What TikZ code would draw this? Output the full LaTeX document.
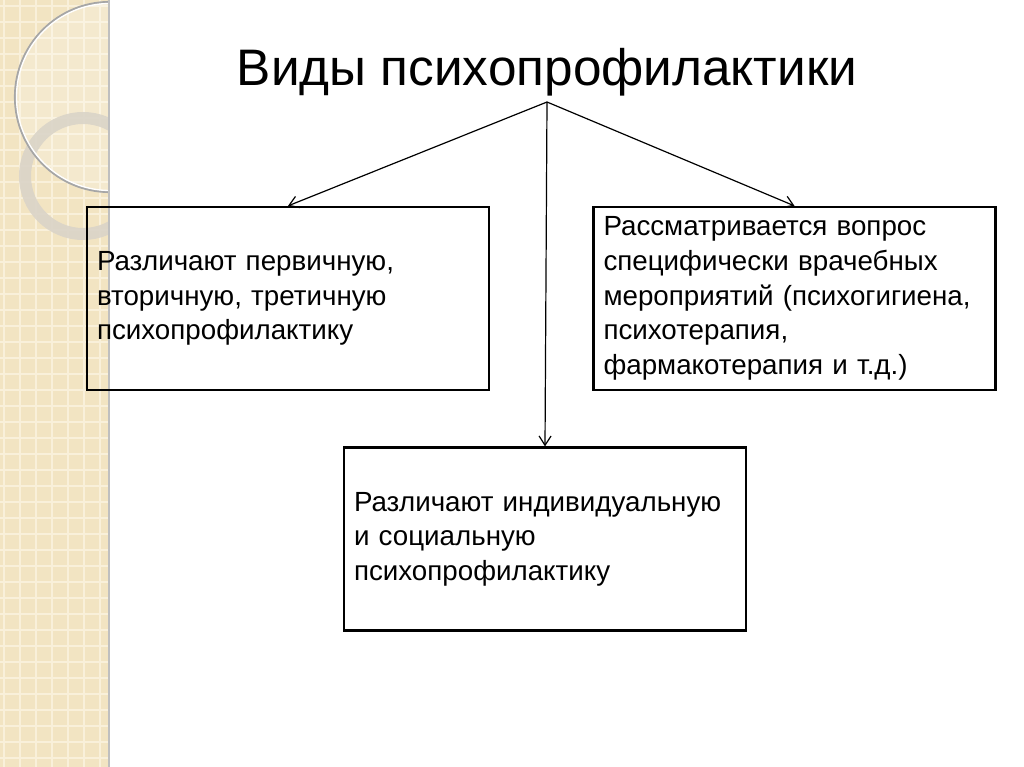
\documentclass[tikz,border=0pt]{standalone}
\usepackage{fontspec}
\setmainfont{Liberation Sans}
\usetikzlibrary{arrows.meta,positioning}

\definecolor{stripbeige}{RGB}{242,228,194}
\definecolor{stripgrid}{RGB}{249,240,218}
\definecolor{ringgray}{RGB}{218,212,200}

\tikzset{
	infobox/.style={draw=black,line width=1.9pt,rectangle,
		minimum width=301.5pt,minimum height=137pt,
		text width=286.5pt,inner xsep=7.5pt,align=left,
		font=\fontsize{20.8pt}{26pt}\selectfont},
	branch/.style={line width=0.9pt,-{Straight Barb[length=7pt,width=9pt]}}
}

\begin{document}
\begin{tikzpicture}[x=0.75pt,y=-0.75pt]
	\useasboundingbox (0,0) rectangle (1024,767);
	\fill[white] (0,0) rectangle (1024,767);
	% left strip
	\begin{scope}
		\clip (0,0) rectangle (108,767);
		\fill[stripbeige] (0,0) rectangle (108,767);
		\foreach \k in {0,...,48}
			\draw[stripgrid,line width=1pt] (0,{\k*16+6}) -- (108,{\k*16+6});
		\foreach \k in {0,...,7}
			\draw[stripgrid,line width=1pt] ({\k*16+4},0) -- ({\k*16+4},767);
		\fill[white,opacity=0.2] (110,97) circle (95);
		\draw[ringgray,line width=9pt,opacity=0.9] (83,176) circle (58);
		\draw[black!35,line width=1.6pt] (110,97) circle (95);
		\draw[white,line width=1pt] (110,97) circle (93.5);
	\end{scope}
	\fill[black!25] (108,0) rectangle (110,767);

	\node[anchor=base] (title) at (547,85) {\fontsize{38.5pt}{44pt}\selectfont Виды психопрофилактики};
	\coordinate (src) at (547,102);

	\node[infobox] (primary) at (288,298.5)
		{Различают первичную,\\вторичную, третичную\\психопрофилактику};
	\node[infobox] (medical) at (794.5,298.5)
		{Рассматривается вопрос\\специфически врачебных\\мероприятий (психогигиена,\\психотерапия,\\фармакотерапия и т.д.)};
	\node[infobox] (social) at (545,539)
		{Различают индивидуальную\\и социальную\\психопрофилактику};

	\draw[branch] (src) -- (primary.north);
	\draw[branch] (src) -- (medical.north);
	\draw[branch] (src) -- (social.north);
\end{tikzpicture}
\end{document}
